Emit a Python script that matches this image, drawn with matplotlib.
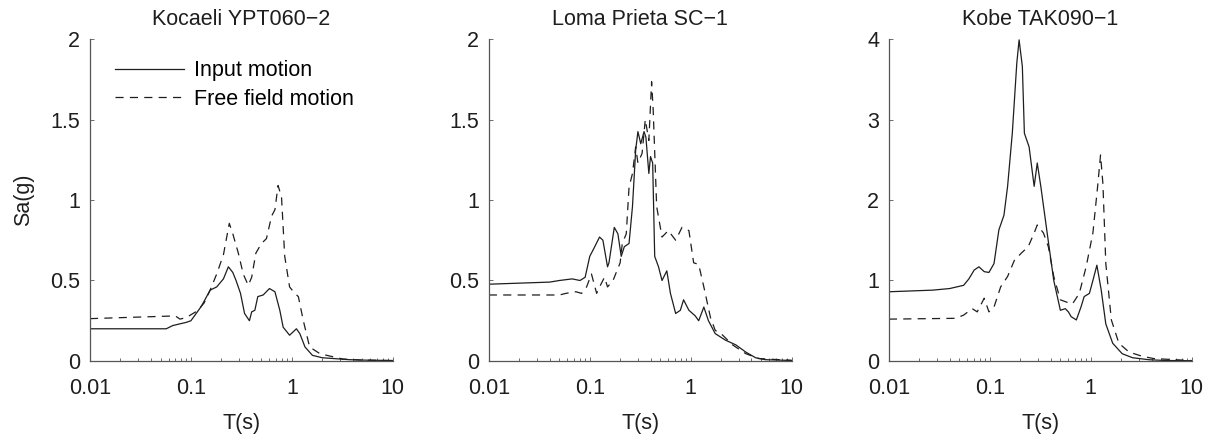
import matplotlib
matplotlib.use("Agg")
import matplotlib.pyplot as plt
from matplotlib.ticker import FixedLocator, FixedFormatter, NullFormatter, LogLocator

plt.rcParams['font.family'] = ['Liberation Sans', 'DejaVu Sans']

titles = ['Kocaeli YPT060\u22122', 'Loma Prieta SC\u22121', 'Kobe TAK090\u22121']
legend_labels = ['Input motion', 'Free field motion']

# Kocaeli YPT060-2
koc_in_T = [0.01, 0.057, 0.066, 0.09, 0.1, 0.127, 0.155, 0.18, 0.21, 0.235, 0.26, 0.28,
            0.31, 0.34, 0.38, 0.40, 0.43, 0.46, 0.52, 0.60, 0.68, 0.76, 0.82, 0.95, 1.11,
            1.2, 1.35, 1.6, 2.0, 2.6, 3.7, 5.5, 10]
koc_in_Sa = [0.20, 0.20, 0.22, 0.24, 0.25, 0.34, 0.44, 0.46, 0.51, 0.585, 0.55, 0.50,
             0.42, 0.295, 0.25, 0.305, 0.315, 0.40, 0.41, 0.45, 0.43, 0.315, 0.21, 0.16, 0.20,
             0.17, 0.087, 0.035, 0.02, 0.015, 0.008, 0.005, 0.003]
koc_ff_T = [0.01, 0.07, 0.078, 0.09, 0.115, 0.135, 0.155, 0.18, 0.21, 0.24, 0.26, 0.295,
            0.33, 0.37, 0.40, 0.44, 0.50, 0.56, 0.63, 0.68, 0.73, 0.79, 0.85, 0.95, 1.07,
            1.16, 1.3, 1.5, 1.9, 2.4, 3.2, 4.7, 10]
koc_ff_Sa = [0.263, 0.28, 0.26, 0.27, 0.31, 0.36, 0.44, 0.54, 0.66, 0.855, 0.79, 0.67,
             0.54, 0.47, 0.52, 0.67, 0.73, 0.76, 0.90, 0.94, 1.09, 1.02, 0.65, 0.46, 0.42,
             0.40, 0.25, 0.087, 0.045, 0.03, 0.012, 0.006, 0.002]

# Loma Prieta SC-1
lom_in_T = [0.01, 0.04, 0.05, 0.067, 0.08, 0.09, 0.1, 0.11, 0.125, 0.135, 0.15, 0.155,
            0.175, 0.19, 0.205, 0.22, 0.245, 0.265, 0.285, 0.30, 0.32, 0.345, 0.36, 0.385,
            0.40, 0.42, 0.44, 0.48, 0.52, 0.58, 0.63, 0.71, 0.79, 0.85, 0.96, 1.11, 1.2,
            1.35, 1.5, 1.75, 2.2, 2.8, 3.5, 4.4, 5.5, 10]
lom_in_Sa = [0.477, 0.49, 0.50, 0.51, 0.50, 0.52, 0.65, 0.70, 0.77, 0.75, 0.585, 0.61,
             0.83, 0.79, 0.65, 0.71, 0.73, 0.96, 1.31, 1.425, 1.35, 1.425, 1.39, 1.165,
             1.27, 1.23, 0.65, 0.585, 0.50, 0.56, 0.42, 0.295, 0.315, 0.38, 0.315, 0.28, 0.25,
             0.335, 0.25, 0.17, 0.13, 0.10, 0.056, 0.02, 0.008, 0.003]
lom_ff_T = [0.01, 0.05, 0.058, 0.073, 0.083, 0.093, 0.104, 0.117, 0.125, 0.14, 0.15, 0.17,
            0.2, 0.21, 0.23, 0.245, 0.265, 0.285, 0.30, 0.33, 0.355, 0.385, 0.41, 0.425,
            0.46, 0.52, 0.60, 0.71, 0.82, 0.96, 1.07, 1.2, 1.35, 1.57, 1.75, 2.0, 2.6, 3.5,
            4.7, 10]
lom_ff_Sa = [0.41, 0.41, 0.42, 0.43, 0.42, 0.46, 0.54, 0.42, 0.46, 0.52, 0.46, 0.50,
             0.61, 0.73, 0.79, 1.08, 1.165, 1.33, 1.23, 1.29, 1.50, 1.37, 1.735, 1.56,
             0.96, 0.77, 0.81, 0.75, 0.83, 0.81, 0.61, 0.60, 0.46, 0.27, 0.19, 0.17, 0.10,
             0.046, 0.015, 0.004]

# Kobe TAK090-1
kob_in_T = [0.01, 0.027, 0.04, 0.055, 0.062, 0.07, 0.078, 0.088, 0.098, 0.11, 0.123, 0.138,
            0.15, 0.167, 0.185, 0.195, 0.21, 0.22, 0.245, 0.275, 0.295, 0.32, 0.37, 0.43,
            0.50, 0.56, 0.60, 0.64, 0.72, 0.80, 0.86, 0.97, 1.05, 1.15, 1.27, 1.41, 1.65,
            2.05, 2.6, 3.8, 5.5, 10]
kob_in_Sa = [0.86, 0.88, 0.90, 0.94, 1.02, 1.13, 1.17, 1.11, 1.10, 1.21, 1.63, 1.81,
             2.17, 2.83, 3.70, 3.99, 3.66, 2.83, 2.66, 2.17, 2.46, 2.17, 1.59, 1.00,
             0.63, 0.65, 0.61, 0.55, 0.51, 0.67, 0.80, 0.84, 1.00, 1.19, 0.88, 0.46, 0.22,
             0.09, 0.04, 0.015, 0.006, 0.003]
kob_ff_T = [0.01, 0.046, 0.055, 0.067, 0.075, 0.088, 0.098, 0.11, 0.128, 0.15, 0.175, 0.205,
            0.24, 0.275, 0.295, 0.34, 0.38, 0.43, 0.50, 0.58, 0.66, 0.77, 0.90, 1.05, 1.17,
            1.25, 1.32, 1.41, 1.6, 1.9, 2.4, 3.2, 4.2, 10]
kob_ff_Sa = [0.52, 0.53, 0.57, 0.65, 0.61, 0.78, 0.61, 0.67, 0.92, 1.05, 1.25, 1.34,
             1.42, 1.59, 1.69, 1.59, 1.42, 1.05, 0.76, 0.73, 0.71, 0.84, 1.17, 1.59, 2.17,
             2.56, 2.20, 1.21, 0.51, 0.22, 0.11, 0.06, 0.03, 0.005]

series = [
    (koc_in_T, koc_in_Sa, koc_ff_T, koc_ff_Sa),
    (lom_in_T, lom_in_Sa, lom_ff_T, lom_ff_Sa),
    (kob_in_T, kob_in_Sa, kob_ff_T, kob_ff_Sa),
]
y_tops = [2, 2, 4]
y_ticks = [[0, 0.5, 1, 1.5, 2], [0, 0.5, 1, 1.5, 2], [0, 1, 2, 3, 4]]
y_ticklabels = [['0', '0.5', '1', '1.5', '2'], ['0', '0.5', '1', '1.5', '2'],
                ['0', '1', '2', '3', '4']]
x_ticks = [0.01, 0.1, 1, 10]
x_ticklabels = ['0.01', '0.1', '1', '10']

ink = '#1e1e1e'
axis_grey = '#555555'
fs = 15.5
fig = plt.figure(figsize=(12.16, 4.44), dpi=100)
lefts = [0.074, 0.402, 0.731]

for i in range(3):
    ax = fig.add_axes([lefts[i], 0.187, 0.249, 0.725])
    tin, sin, tff, sff = series[i]
    ax.plot(tin, sin, color=ink, lw=0.9, label=legend_labels[0])
    ax.plot(tff, sff, color=ink, lw=0.9, linestyle=(0, (6.5, 5)), label=legend_labels[1])
    ax.set_xscale('log')
    ax.set_xlim(0.01, 10)
    ax.set_ylim(0, y_tops[i])
    ax.xaxis.set_major_locator(FixedLocator(x_ticks))
    ax.xaxis.set_major_formatter(FixedFormatter(x_ticklabels))
    ax.xaxis.set_minor_locator(LogLocator(base=10, subs=range(2, 10)))
    ax.xaxis.set_minor_formatter(NullFormatter())
    ax.set_yticks(y_ticks[i])
    ax.set_yticklabels(y_ticklabels[i])
    for s in ['top', 'right']:
        ax.spines[s].set_visible(False)
    for s in ['left', 'bottom']:
        ax.spines[s].set_color(axis_grey)
        ax.spines[s].set_linewidth(0.9)
    ax.tick_params(axis='x', which='major', direction='in', length=3, width=0.6,
                   pad=12, labelsize=fs, color=axis_grey, labelcolor=ink)
    ax.tick_params(axis='x', which='minor', direction='in', length=2, width=0.6,
                   color=axis_grey)
    ax.tick_params(axis='y', direction='in', length=3, width=0.6, pad=7,
                   labelsize=fs, color=axis_grey, labelcolor=ink)
    ax.set_title(titles[i], fontsize=fs, color=ink, pad=10)
    ax.set_xlabel('T(s)', fontsize=fs, color=ink, labelpad=10)
    if i == 0:
        ax.set_ylabel('Sa(g)', fontsize=fs, color=ink, labelpad=12)
        ax.legend(loc='upper left', bbox_to_anchor=(0.083, 0.934), frameon=False,
                  fontsize=fs, handlelength=3.2, handletextpad=0.45,
                  labelspacing=0.34, borderpad=0, borderaxespad=0)

fig.savefig('out.png', dpi=100)
